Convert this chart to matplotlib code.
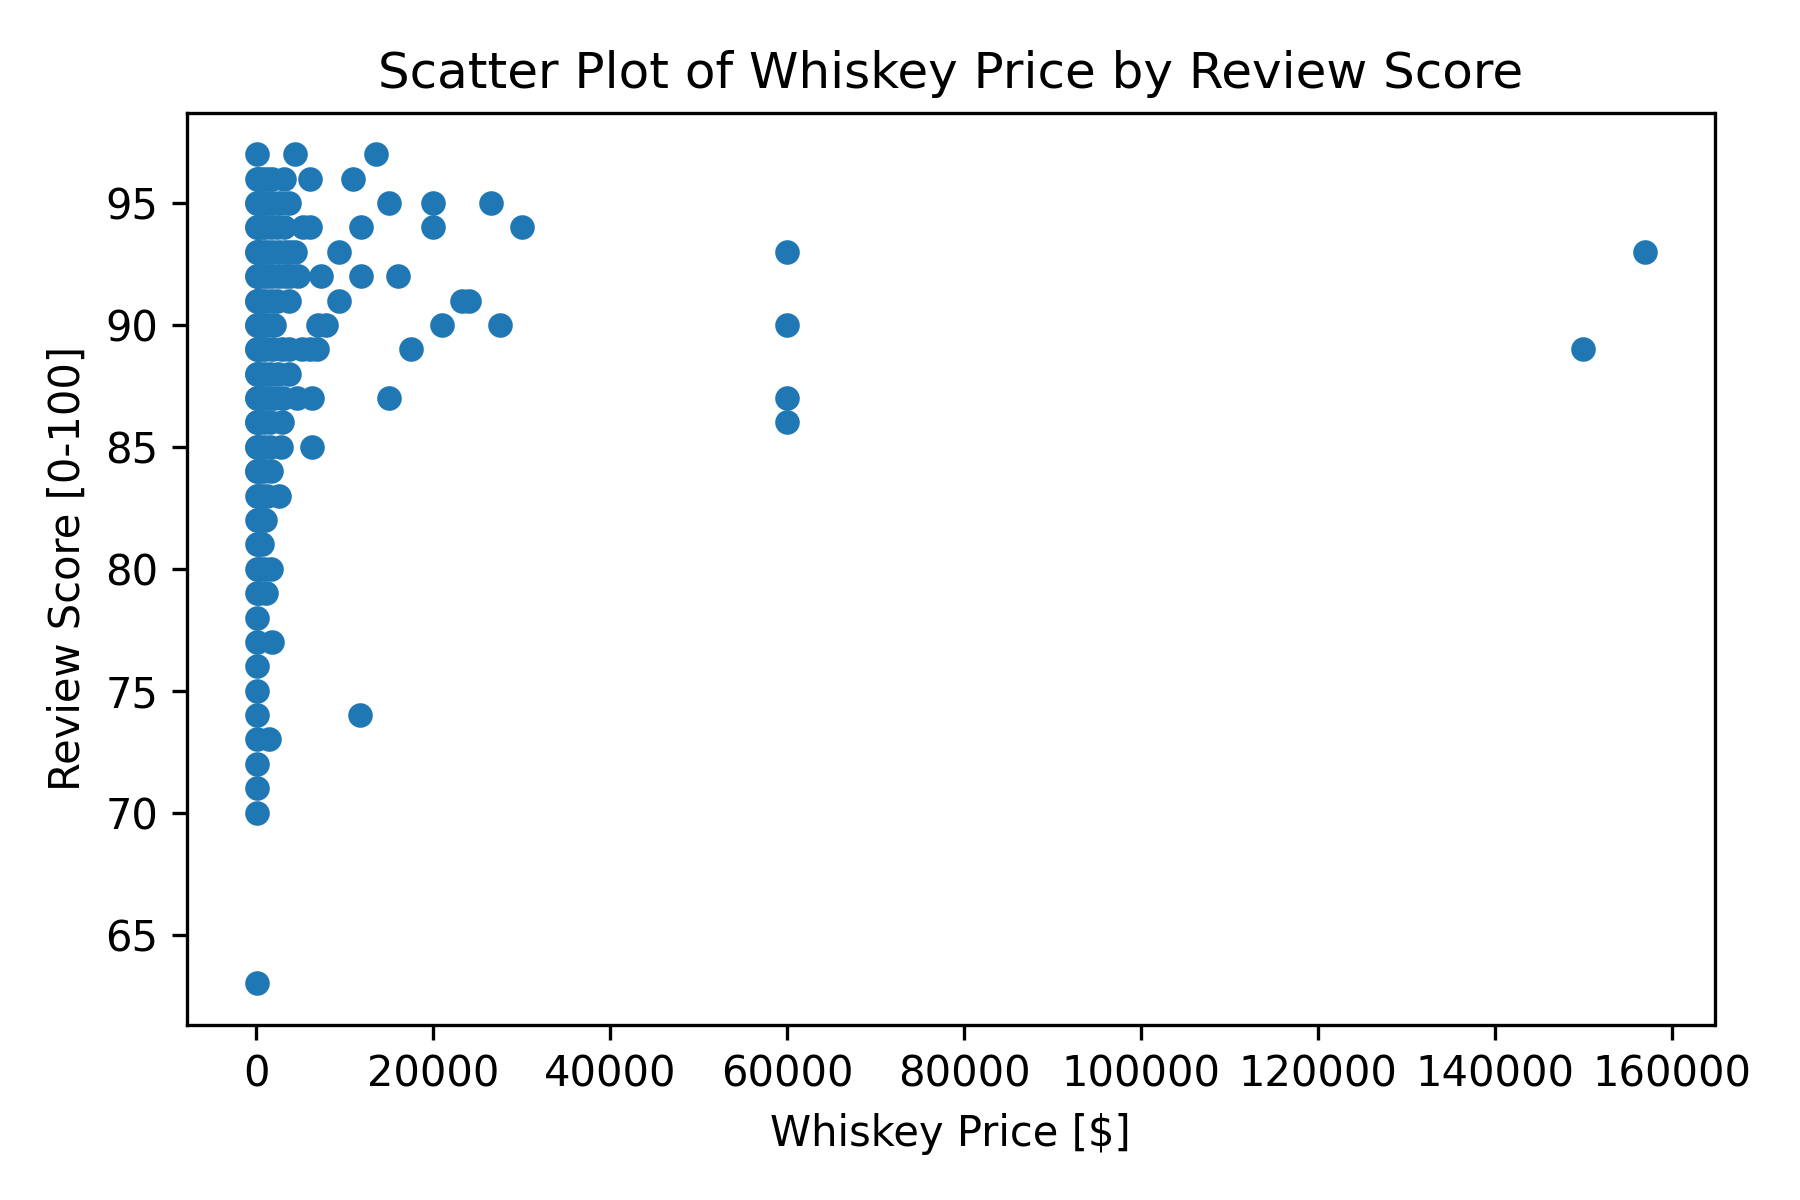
import matplotlib
matplotlib.use('Agg')
import matplotlib.pyplot as plt

# prijzen per review score (gelezen uit de grafiek)
price = [40, 4300, 13500,
         30, 150, 600, 1200, 1800, 3100, 6100, 10900,
         30, 100, 300, 700, 1200, 1800, 2500, 3700, 15000, 20000, 26500,
         20, 80, 250, 600, 1000, 1600, 2300, 3100, 5300, 6000, 11800, 20000, 30000,
         20, 60, 150, 400, 800, 1300, 1900, 2600, 3200, 3800, 4300, 9300, 60000, 157000,
         20, 60, 150, 400, 800, 1300, 1900, 2600, 3200, 3800, 4700, 7300, 11800, 16000,
         20, 70, 200, 500, 1000, 1600, 2300, 3700, 9300, 23200, 24000,
         20, 80, 250, 600, 1200, 2000, 7000, 7900, 21000, 27500, 60000,
         20, 70, 200, 500, 1000, 1700, 2900, 3700, 5200, 6000, 6800, 17500, 150000,
         20, 80, 300, 800, 1500, 2400, 3700,
         20, 80, 300, 700, 1300, 2000, 3000, 4600, 6300, 15000, 60000,
         20, 80, 300, 800, 1500, 2900, 60000,
         20, 80, 300, 800, 1500, 2800, 6300,
         20, 100, 400, 900, 1650,
         20, 150, 600, 1200, 2500,
         20, 200, 600, 1000,
         20, 200, 650,
         20, 300, 900, 1600,
         20, 300, 1100,
         30,
         30, 1800,
         15,
         20,
         20, 11700,
         50, 1400,
         20,
         20,
         30,
         30]

score = [97]*3 + [96]*8 + [95]*11 + [94]*13 + [93]*14 + [92]*14 + [91]*11 \
      + [90]*11 + [89]*13 + [88]*7 + [87]*11 + [86]*7 + [85]*7 + [84]*5 \
      + [83]*5 + [82]*4 + [81]*3 + [80]*4 + [79]*3 + [78]*1 + [77]*2 \
      + [76]*1 + [75]*1 + [74]*2 + [73]*2 + [72]*1 + [71]*1 + [70]*1 + [63]*1

fig, ax = plt.subplots(figsize=(6, 4), dpi=300)
fig.subplots_adjust(left=0.104, right=0.9525, top=0.906, bottom=0.146)
ax.scatter(price, score, s=24, linewidths=1.0)
ax.set_title('Scatter Plot of Whiskey Price by Review Score')
ax.set_xlabel('Whiskey Price [$]')
ax.set_ylabel('Review Score [0-100]')
fig.savefig('out.png', dpi=300)
